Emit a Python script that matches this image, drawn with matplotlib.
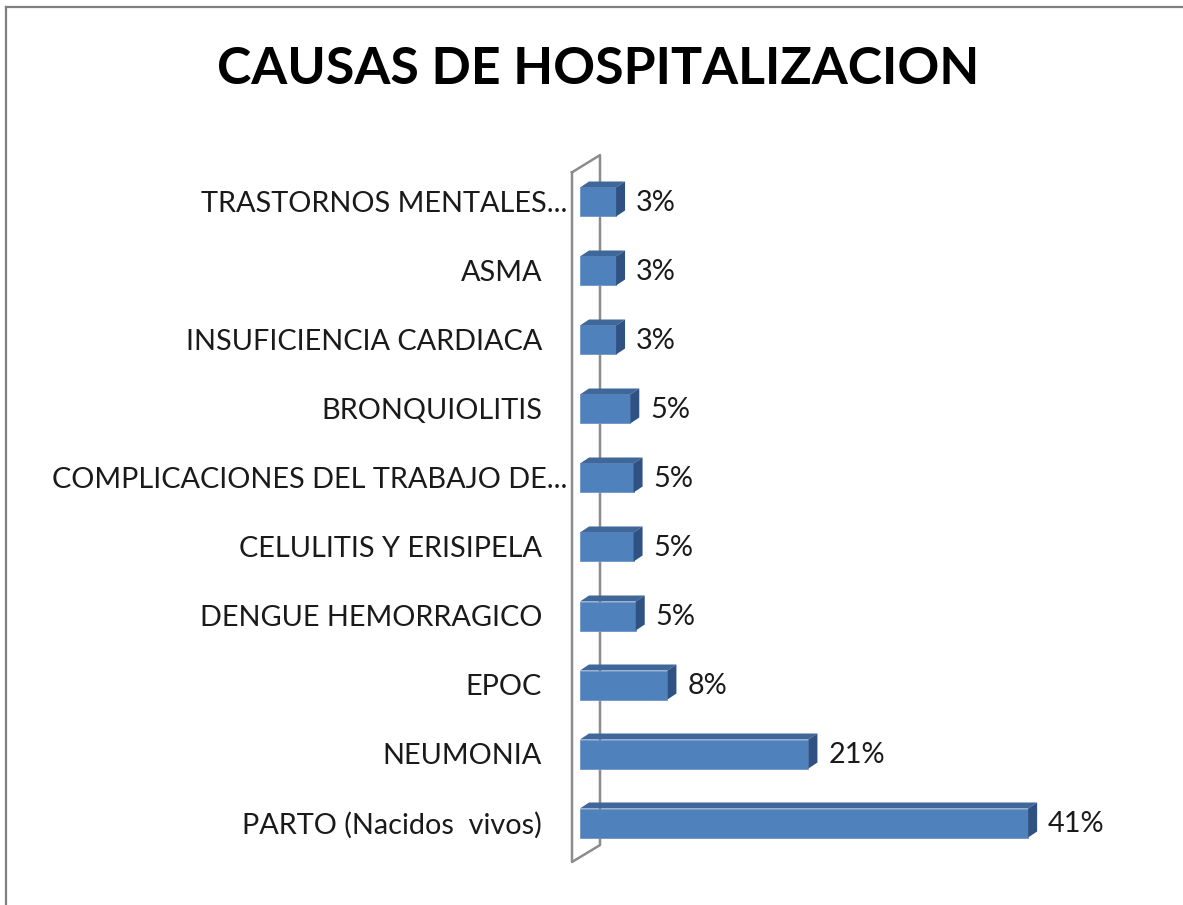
import numpy as np
import matplotlib
matplotlib.use("Agg")
import matplotlib.pyplot as plt
from matplotlib.patches import Polygon

# datos (de abajo hacia arriba)
causas = ["PARTO (Nacidos  vivos)", "NEUMONIA", "EPOC", "DENGUE HEMORRAGICO",
          "CELULITIS Y ERISIPELA", "COMPLICACIONES DEL TRABAJO DE...",
          "BRONQUIOLITIS", "INSUFICIENCIA CARDIACA", "ASMA", "TRASTORNOS MENTALES..."]
porcentajes = [41.0, 20.9, 8.0, 5.1, 4.9, 4.9, 4.6, 3.3, 3.3, 3.3]
etiquetas = ["41%", "21%", "8%", "5%", "5%", "5%", "5%", "3%", "3%", "3%"]

plt.rcParams['font.family'] = ['Lato', 'DejaVu Sans']

W, H = 1183, 905
fig = plt.figure(figsize=(W / 100, H / 100), dpi=100)

# ejes: x=0 en px 580, 10.93 px por %, filas cada 69 px
px_per = 10.93
x0_px = 580
xmax = 50
row0_px, row_step = 823, 69
ax = fig.add_axes([x0_px / W, 1 - (row0_px + row_step) / H,
                   xmax * px_per / W, 11 * row_step / H])
ax.set_xlim(0, xmax)
ax.set_ylim(-1, 10)
ax.axis('off')

front = '#4F81BD'
top = '#3F6799'
side = '#2F5283'
bh = 29 / row_step          # alto de barra
dx = 9 / px_per             # profundidad 3D
dy = 6 / row_step

# pared del eje (marco gris)
wx0, wx1 = -8 / px_per, 20 / px_per
wall_x = [wx0, wx1, wx1, wx0, wx0]
wall_y = [9.43, 9.68, -0.32, -0.565, 9.43]
ax.plot(wall_x, wall_y, color='#8C8C8C', lw=1.8, clip_on=False, zorder=1)

y = np.arange(len(causas))
ax.barh(y, porcentajes, height=bh, color=front, edgecolor='#6D95C8', lw=0.6, zorder=3)
for yi, v in zip(y, porcentajes):
    yt = yi + bh / 2
    ax.add_patch(Polygon([(0, yt), (dx, yt + dy), (v + dx, yt + dy), (v, yt)],
                         closed=True, fc=top, ec='none', zorder=3))
    yb = yi - bh / 2
    ax.add_patch(Polygon([(v, yb), (v, yt), (v + dx, yt + dy), (v + dx, yb + dy)],
                         closed=True, fc=side, ec='none', zorder=3))

fs = 20.8
for yi, v, lab in zip(y, porcentajes, etiquetas):
    ax.annotate(lab, (v + dx, yi), xytext=(11, -1), textcoords='offset pixels',
                ha='left', va='center', fontsize=fs, color='#1a1a1a')

for yi, c in zip(y, causas):
    off = -13 if c.endswith('...') else -38
    ax.annotate(c, (0, yi), xytext=(off, -2), textcoords='offset pixels',
                ha='right', va='center', fontsize=fs, color='#1a1a1a')

fig.text(598 / W, 1 - 70 / H, "CAUSAS DE HOSPITALIZACION", ha='center', va='center',
         fontsize=37.4, fontweight='bold', color='black')

# borde del área del gráfico
fig.add_artist(plt.Line2D([6 / W, 6 / W], [0, 1 - 7 / H], color='#7F7F7F', lw=1.6))
fig.add_artist(plt.Line2D([6 / W, 1], [1 - 7 / H, 1 - 7 / H], color='#7F7F7F', lw=1.6))

fig.savefig('out.png', dpi=100)
